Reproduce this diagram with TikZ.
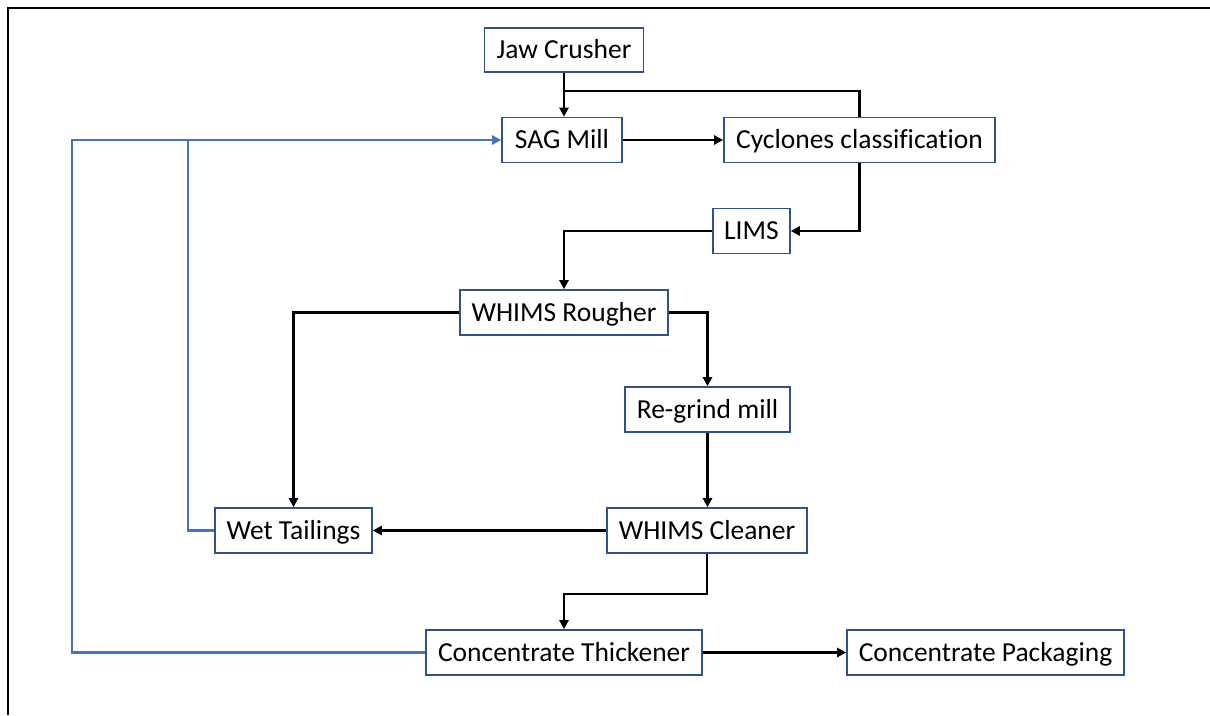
\documentclass[tikz,border=0pt]{standalone}
\usepackage{fontspec}
\setmainfont[Ligatures=CommonOff]{Carlito}
\usetikzlibrary{arrows.meta}
\definecolor{boxedge}{HTML}{2F528F}
\definecolor{recycle}{HTML}{4472C4}
\tikzset{
  unit/.style={draw=boxedge, line width=1.6pt, fill=white, inner sep=0pt,
    text height=22pt, text depth=4.7pt,
    font=\fontsize{27.5}{30}\selectfont},
  flow/.style={line width=2.4pt, -{Triangle[length=9pt,width=9pt]}},
  feed/.style={line width=2.4pt},
  back/.style={draw=recycle, line width=2.8pt},
  backarrow/.style={back, -{Triangle[length=9pt,width=9pt]}},
}
\begin{document}
\begin{tikzpicture}[x=1pt,y=-1pt]
\useasboundingbox (0,0) rectangle (1210,715);
% page frame
\draw[line width=2.2pt] (8,715) -- (8,8) -- (1210,8);

% process units
\node[unit, minimum width=159pt, minimum height=44pt] (jaw) at (564,50) {Jaw Crusher};
\node[unit, minimum width=120pt, minimum height=45pt] (sag) at (562,140) {SAG Mill};
\node[unit, minimum width=271pt, minimum height=45pt] (cyc) at (859.5,140) {Cyclones classification};
\node[unit, minimum width=77pt, minimum height=45pt] (lims) at (751.5,231) {LIMS};
\node[unit, minimum width=208pt, minimum height=45pt] (rough) at (564,312.5) {WHIMS Rougher};
\node[unit, minimum width=165pt, minimum height=45pt] (regrind) at (707.5,409.5) {Re-grind mill};
\node[unit, minimum width=157pt, minimum height=45pt] (wet) at (293.5,530.5) {Wet Tailings};
\node[unit, minimum width=200pt, minimum height=45pt] (clean) at (707,530.5) {WHIMS Cleaner};
\node[unit, minimum width=276pt, minimum height=45pt] (thick) at (564,652.5) {Concentrate Thickener};
\node[unit, minimum width=277pt, minimum height=45pt] (pack) at (985.5,652.5) {Concentrate Packaging};

% helper points for the loops
\coordinate (join) at (565,91);
\coordinate (recL) at (72,140);
\coordinate (tap) at (188,140);

% main flow
\draw[flow] (jaw.south) -- (jaw.south |- sag.north);
\draw[feed] (cyc.north) |- (join);
\draw[flow] (sag.east) -- (cyc.west);
\draw[flow] (cyc.south) |- (lims.east);
\draw[flow] (lims.west) -| (rough.north);
\draw[flow] (rough.west) -| (wet.north);
\draw[flow] (rough.east) -| (regrind.north);
\draw[flow] (regrind.south) -- (regrind.south |- clean.north);
\draw[flow] (clean.west) -- (wet.east);
\draw[flow] (clean.south) -- ++(0,40) -| (thick.north);
\draw[flow] (thick.east) -- (pack.west);

% water recycle lines
\draw[backarrow] (thick.west) -| (recL) -- (sag.west);
\draw[back] (wet.west) -| (tap);
\end{tikzpicture}
\end{document}
